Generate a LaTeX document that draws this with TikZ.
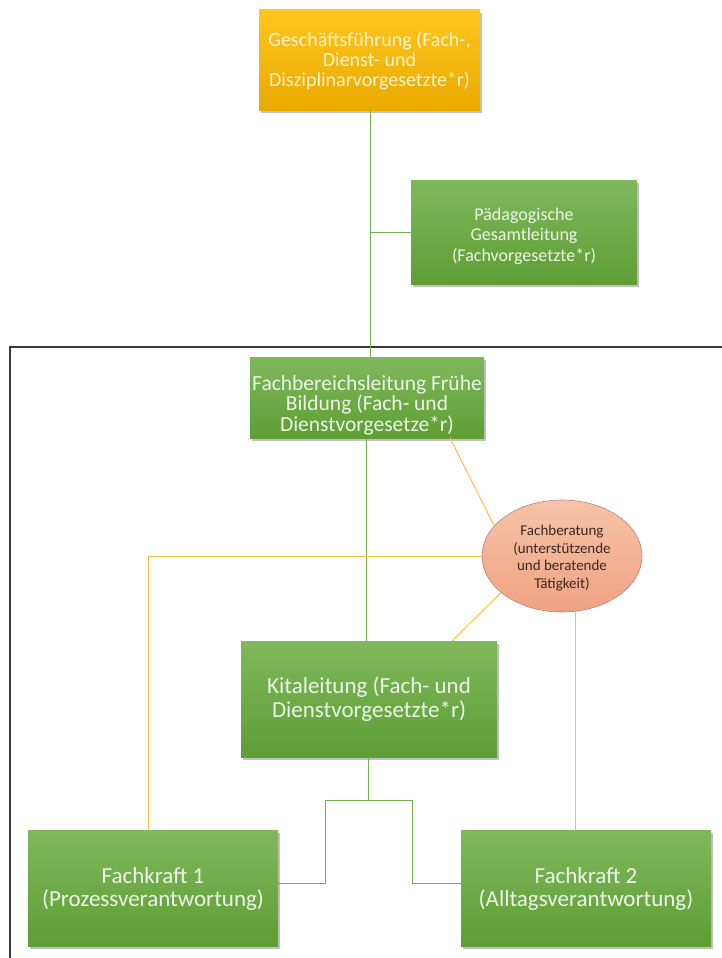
\documentclass[tikz,border=0pt]{standalone}
\usepackage{fontspec}
\setmainfont{Carlito}
\usetikzlibrary{shapes.geometric,shadows}
\definecolor{gtop}{HTML}{7FB85C}
\definecolor{gbot}{HTML}{5E9E34}
\definecolor{otop}{HTML}{FFC61E}
\definecolor{obot}{HTML}{E9A900}
\definecolor{etop}{HTML}{F6C3AA}
\definecolor{ebot}{HTML}{F0A282}
\definecolor{eline}{HTML}{B98473}
\definecolor{gline}{HTML}{72B04E}
\definecolor{yline}{HTML}{F3C23C}
\definecolor{gtext}{HTML}{EEF5E8}
\definecolor{otext}{HTML}{FFF4CF}
\definecolor{etext}{HTML}{3A2A22}
\definecolor{frame}{HTML}{3A3A3A}
\tikzset{
  box/.style={rectangle, align=center, inner sep=2pt,
    drop shadow={shadow xshift=2pt, shadow yshift=-3pt, opacity=0.35, fill=black!70}},
  greenbox/.style={box, top color=gtop, bottom color=gbot, text=gtext},
  orangebox/.style={box, top color=otop, bottom color=obot, text=otext},
  boxtext/.style={align=center, inner sep=0pt},
  glink/.style={draw=gline, line width=1pt},
  ylink/.style={draw=yline, line width=1pt},
}
\begin{document}
\begin{tikzpicture}[x=1pt,y=-1pt]
\useasboundingbox (0,0) rectangle (722,958);
\fill[white] (0,0) rectangle (722,958);

% frame
\draw[frame, line width=1.2pt] (10,958) -- (10,347) -- (722,347);

% nodes
\node[orangebox, minimum width=221pt, minimum height=100pt] (gf) at (369.5,60) {};
\node[boxtext, text=otext, font=\fontsize{20}{20}\selectfont] (gft) at (369.5,61)
  {Geschäftsführung (Fach-,\\Dienst- und\\Disziplinarvorgesetzte*r)};
\node[greenbox, minimum width=226pt, minimum height=104pt] (pg) at (524,232) {};
\node[boxtext, text=gtext, font=\fontsize{18}{20.5}\selectfont] (pgt) at (524,236)
  {Pädagogische\\Gesamtleitung\\(Fachvorgesetzte*r)};
\node[greenbox, minimum width=234pt, minimum height=81pt] (fbl) at (367,397.5) {};
\node[boxtext, text=gtext, font=\fontsize{21.5}{20.5}\selectfont] (fblt) at (367,405)
  {Fachbereichsleitung Frühe\\Bildung (Fach- und\\Dienstvorgesetze*r)};
\node[ellipse, draw=eline, line width=0.6pt, top color=etop, bottom color=ebot,
  minimum width=160pt, minimum height=112pt, inner sep=0pt] (fb) at (562,556) {};
\node[boxtext, text=etext, font=\fontsize{15}{17.4}\selectfont] (fbt) at (562,558)
  {Fachberatung\\(unterstützende\\und beratende\\Tätigkeit)};
\node[greenbox, minimum width=256pt, minimum height=116pt] (kita) at (369,699) {};
\node[boxtext, text=gtext, font=\fontsize{23}{23.3}\selectfont] (kitat) at (369,699)
  {Kitaleitung (Fach- und\\Dienstvorgesetzte*r)};
\node[greenbox, minimum width=250pt, minimum height=116pt] (fk1) at (153,888) {};
\node[boxtext, text=gtext, font=\fontsize{23}{23.3}\selectfont] (fk1t) at (153,889)
  {Fachkraft 1\\(Prozessverantwortung)};
\node[greenbox, minimum width=250pt, minimum height=116pt] (fk2) at (586,888) {};
\node[boxtext, text=gtext, font=\fontsize{23}{23.3}\selectfont] (fk2t) at (586,889)
  {Fachkraft 2\\(Alltagsverantwortung)};

% green connectors
\coordinate (gx) at (370,0);
\draw[glink] (gf.south -| gx) -- (gx |- fbl.north);
\draw[glink] (gx |- pg.west) -- (pg.west);
\coordinate (kx) at (366,0);
\draw[glink] (fbl.south -| kx) -- (kx |- kita.north);
\coordinate (j) at (368,800);
\coordinate (jl) at (325,800);
\coordinate (jr) at (412,800);
\draw[glink] (kita.south -| j) -- (j);
\draw[glink] (jl) -- (jr);
\draw[glink] (jl) |- ([yshift=5pt]fk1.east);
\draw[glink] (jr) |- ([yshift=5pt]fk2.west);

% yellow connectors
\draw[ylink] ([xshift=-34pt]fbl.south east) -- (fb.156);
\coordinate (yl) at (148,556);
\draw[ylink] (fb.west) -- (yl) -- (yl |- fk1.north);
\draw[ylink] (fb.211) -- ([xshift=-45pt]kita.north east);
\draw[ylink] (fb.-76) -- (fb.-76 |- fk2.north);
\end{tikzpicture}
\end{document}
